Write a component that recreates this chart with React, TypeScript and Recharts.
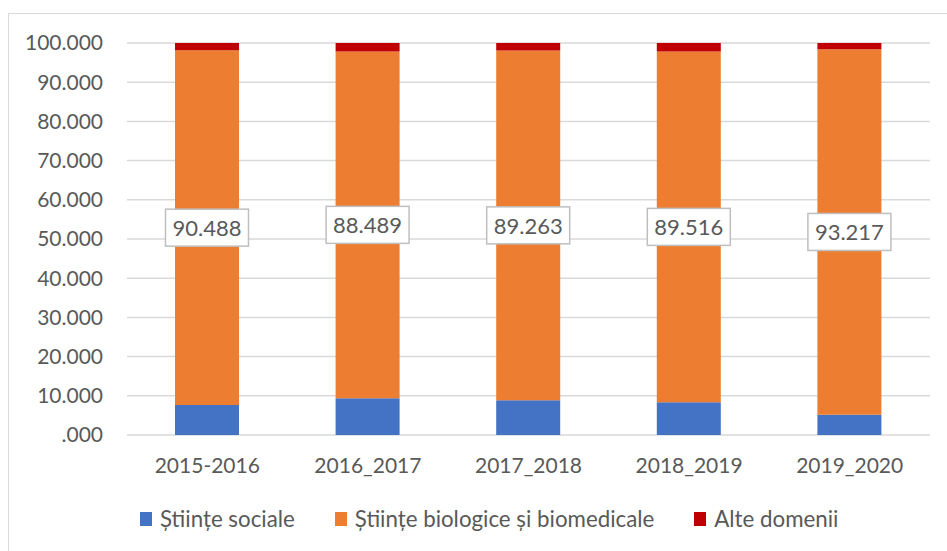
import { Bar, BarChart, CartesianGrid, LabelList, Legend, XAxis, YAxis } from 'recharts'

const categories = ['2015-2016', '2016_2017', '2017_2018', '2018_2019', '2019_2020']
const stiinteSociale = [7.65, 9.36, 8.85, 8.33, 5.19]
const stiinteBiologice = [90.488, 88.489, 89.263, 89.516, 93.217]
const alteDomenii = [1.862, 2.151, 1.887, 2.154, 1.593]
const yTicks = [0, 10, 20, 30, 40, 50, 60, 70, 80, 90, 100]
const seriesOrder = ['Științe sociale', 'Științe biologice și biomedicale', 'Alte domenii']

const data = categories.map((category, i) => ({
  category,
  sociale: stiinteSociale[i],
  biologice: stiinteBiologice[i],
  alte: alteDomenii[i],
}))

const FONT = 'Lato, "Noto Sans", sans-serif'
const INK = '#595959'

const formatTick = (v: number) => (v === 0 ? '.000' : v.toFixed(3))

/** White boxed label in the middle of the orange segment. */
function BoxLabel(props: any) {
  const { x, y, width, height, value } = props
  const cx = x + width / 2
  const cy = y + height / 2
  const w = 83
  const h = 37
  return (
    <g>
      <rect x={cx - w / 2} y={cy - h / 2} width={w} height={h} fill="#fff" stroke="#bfbfbf" strokeWidth={1.5} />
      <text
        x={cx}
        y={cy}
        textAnchor="middle"
        dominantBaseline="central"
        fill={INK}
        style={{ fontFamily: FONT, fontSize: 22 }}
      >
        {Number(value).toFixed(3)}
      </text>
    </g>
  )
}

function LegendRow({ payload }: any) {
  const items = [...(payload || [])].sort(
    (a: any, b: any) => seriesOrder.indexOf(a.value) - seriesOrder.indexOf(b.value),
  )
  return (
    <div style={{ display: 'flex', alignItems: 'center', fontFamily: FONT, fontSize: 22.3, color: INK }}>
      {items.map((entry: any) => (
        <div key={entry.value} style={{ display: 'flex', alignItems: 'center', marginRight: 40 }}>
          <span style={{ width: 12, height: 14, background: entry.color, marginRight: 8, display: 'inline-block' }} />
          <span>{entry.value}</span>
        </div>
      ))}
    </div>
  )
}

export default function App() {
  return (
    <div style={{ position: 'absolute', left: 0, top: 0, width: 947, height: 551, background: '#fff', overflow: 'hidden' }}>
      <div
        style={{
          position: 'absolute',
          left: 8,
          top: 13,
          width: 960,
          height: 560,
          borderLeft: '1px solid #d9d9d9',
          borderTop: '1px solid #d9d9d9',
        }}
      />
      <BarChart
        width={947}
        height={551}
        data={data}
        margin={{ top: 43, right: 17, left: 27, bottom: 86 }}
        style={{ position: 'absolute', left: 0, top: 0 }}
      >
        <CartesianGrid vertical={false} stroke="#d9d9d9" strokeWidth={1.5} />
        <XAxis
          dataKey="category"
          axisLine={false}
          tickLine={false}
          tickSize={0}
          tickMargin={23}
          height={30}
          tick={{ fontSize: 21, fill: INK, fontFamily: FONT }}
        />
        <YAxis
          type="number"
          domain={[0, 100]}
          ticks={yTicks}
          width={100}
          axisLine={false}
          tickLine={false}
          tickSize={0}
          tickMargin={24}
          tickFormatter={formatTick}
          tick={{ fontSize: 21, fill: INK, fontFamily: FONT }}
        />
        <Legend
          layout="horizontal"
          verticalAlign="middle"
          align="center"
          content={<LegendRow />}
          wrapperStyle={{ top: 505, left: 140, width: 800 }}
        />
        <Bar dataKey="sociale" name="Științe sociale" stackId="a" fill="#4472C4" barSize={64} isAnimationActive={false} />
        <Bar
          dataKey="biologice"
          name="Științe biologice și biomedicale"
          stackId="a"
          fill="#ED7D31"
          barSize={64}
          isAnimationActive={false}
        >
          <LabelList dataKey="biologice" content={<BoxLabel />} />
        </Bar>
        <Bar dataKey="alte" name="Alte domenii" stackId="a" fill="#C00000" barSize={64} isAnimationActive={false} />
      </BarChart>
    </div>
  )
}
